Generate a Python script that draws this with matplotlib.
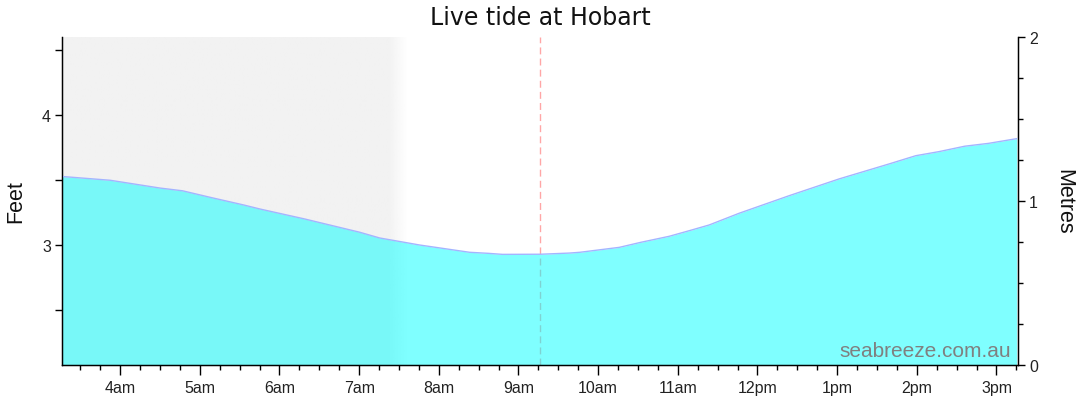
import numpy as np
import matplotlib
matplotlib.use("Agg")
import matplotlib.pyplot as plt
from matplotlib.ticker import FixedLocator, MultipleLocator

# ---- data (times in decimal hours of the day) ----
tide_hours = [3.273, 3.875, 4.501, 4.783, 5.128, 5.550, 5.754, 6.318, 7.008, 7.258,
              7.759, 8.386, 8.620, 8.799, 9.276, 9.639, 9.771, 10.266, 10.538, 10.892,
              11.143, 11.393, 11.769, 12.396, 13.023, 13.649, 13.987, 14.276, 14.602,
              14.902, 15.253]
tide_feet = [3.527, 3.498, 3.438, 3.417, 3.367, 3.308, 3.277, 3.200, 3.098, 3.054,
             3.000, 2.944, 2.936, 2.928, 2.929, 2.938, 2.944, 2.982, 3.021, 3.067,
             3.110, 3.154, 3.244, 3.379, 3.508, 3.623, 3.687, 3.718, 3.760,
             3.782, 3.818]
hour_ticks = [4, 5, 6, 7, 8, 9, 10, 11, 12, 13, 14, 15]
hour_labels = ["4am", "5am", "6am", "7am", "8am", "9am", "10am", "11am",
               "12pm", "1pm", "2pm", "3pm"]
now_hour = 9.27
night_end = 7.36       # solid night shading ends
night_fade_end = 7.60  # fade to white completed
x_start, x_end = 3.27, 15.27
feet_range = (2.077, 4.6)
metre_range = (0, 2)

plt.rcParams['font.family'] = ['Liberation Sans', 'DejaVu Sans']

fig = plt.figure(figsize=(10.8, 4.14), dpi=100)
ax = fig.add_axes([62/1080, 48/414, 956/1080, 328/414])
ax.set_xlim(x_start, x_end)
ax.set_ylim(*feet_range)

# night shading with gradient edge
n = 400
xs = np.linspace(x_start, x_end, n)
alpha = np.clip((night_fade_end - xs) / (night_fade_end - night_end), 0, 1)
img = np.zeros((1, n, 4))
img[..., 0] = 0xf2 / 255
img[..., 1] = 0xf2 / 255
img[..., 2] = 0xf2 / 255
img[0, :, 3] = alpha
ax.imshow(img, extent=[x_start, x_end, feet_range[0], feet_range[1]],
          aspect='auto', interpolation='bilinear', zorder=0)

# now line
ax.axvline(now_hour, color=(1, 0, 0, 0.35), lw=1, ls=(0, (5, 3)), zorder=1)

# tide fill
ax.fill_between(tide_hours, tide_feet, feet_range[0] - 1, color='cyan',
                alpha=0.5, lw=0, zorder=2)
ax.plot(tide_hours, tide_feet, color='#a4b4ff', lw=1, zorder=3,
        solid_joinstyle='round')

# axes styling
ax.spines['top'].set_visible(False)
for s in ['left', 'bottom', 'right']:
    ax.spines[s].set_color('black')
    ax.spines[s].set_linewidth(1)
ax.set_xticks(hour_ticks)
ax.set_xticklabels(hour_labels)
ax.xaxis.set_minor_locator(MultipleLocator(0.25))
ax.set_yticks([3, 4])
ax.yaxis.set_minor_locator(FixedLocator([2.5, 3.5, 4.5]))
ax.tick_params(axis='x', which='major', length=7, width=1, labelsize=11.5,
               colors='black', labelcolor='#222222', pad=4)
ax.tick_params(axis='x', which='minor', length=3.5, width=1, colors='black')
ax.tick_params(axis='y', which='major', length=5, width=1, labelsize=11.5,
               labelcolor='#222222', pad=3)
ax.tick_params(axis='y', which='minor', length=5, width=1)
ax.set_ylabel("Feet", fontsize=15.5, labelpad=11, color='#111111')

ax2 = ax.twinx()
ax2.set_ylim(*metre_range)
ax2.set_yticks([0, 1, 2])
ax2.yaxis.set_minor_locator(MultipleLocator(0.25))
ax2.spines['top'].set_visible(False)
ax2.tick_params(axis='y', which='major', length=5, width=1, labelsize=11.5,
                labelcolor='#222222', pad=3)
ax2.tick_params(axis='y', which='minor', length=3.5, width=1)
ax2.set_ylabel("Metres", fontsize=15.5, rotation=270, labelpad=26, color='#111111')

ax.text(0.993, 0.027, "seabreeze.com.au", transform=ax.transAxes,
        ha='right', va='baseline', fontsize=15, color='#808080', zorder=5)

fig.text(0.5, 1 - 18/414, "Live tide at Hobart", ha='center', va='center',
         fontsize=17, color='#111111', family=['DejaVu Sans'])

fig.savefig("out.png", dpi=100)
